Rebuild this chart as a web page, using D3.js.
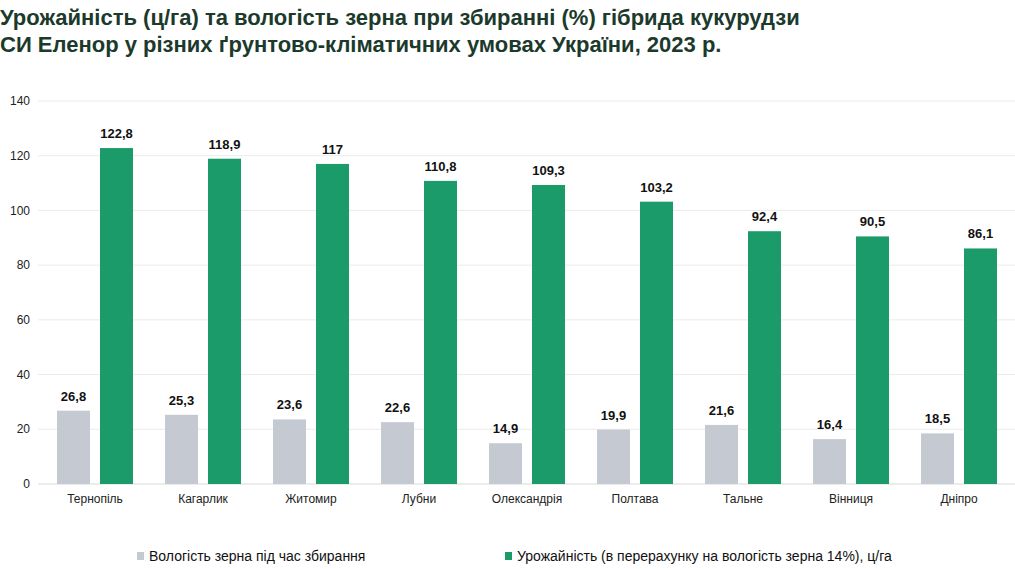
<!DOCTYPE html>
<html>
<head>
<meta charset="utf-8">
<script src="https://cdn.jsdelivr.net/npm/d3@7"></script>
<style>
  body { margin: 0; background: #fff; }
  svg { display: block; font-family: "Liberation Sans", Arial, sans-serif; }
</style>
</head>
<body>
<script>
// categories and series
var cities = ["Тернопіль", "Кагарлик", "Житомир", "Лубни", "Олександрія", "Полтава", "Тальне", "Вінниця", "Дніпро"];
var moisture = [26.8, 25.3, 23.6, 22.6, 14.9, 19.9, 21.6, 16.4, 18.5];
var yieldVals = [122.8, 118.9, 117, 110.8, 109.3, 103.2, 92.4, 90.5, 86.1];
var yTicks = [0, 20, 40, 60, 80, 100, 120, 140];
var seriesNames = ["Вологість зерна під час збирання", "Урожайність (в перерахунку на вологість зерна 14%), ц/га"];
var titleLines = ["Урожайність (ц/га) та вологість зерна при збиранні (%) гібрида кукурудзи",
                  "СИ Еленор у різних ґрунтово-кліматичних умовах України, 2023 р."];

var W = 1015, H = 569;
var margin = {top: 101, right: 2, bottom: 85, left: 41},
    width = W - margin.left - margin.right,
    height = H - margin.top - margin.bottom;

var colors = ["#c4c9d2", "#1a9b69"];

var svg = d3.select("body").append("svg")
    .attr("width", W)
    .attr("height", H);

// title
svg.selectAll("text.title")
  .data(titleLines)
  .enter().append("text")
    .attr("class", "title")
    .attr("x", 0)
    .attr("y", function(d, i) { return 25 + i * 27; })
    .style("font-size", "22px")
    .style("font-weight", "bold")
    .style("fill", "#1c3a2c")
    .text(function(d) { return d; });

var g = svg.append("g")
    .attr("transform", "translate(" + margin.left + "," + margin.top + ")");

var x = d3.scaleBand().domain(cities).range([0, width]).padding(0);
var y = d3.scaleLinear().domain([0, 140]).range([height, 0]);

// grid lines
g.selectAll("line.grid")
  .data(yTicks)
  .enter().append("line")
    .attr("x1", -3)
    .attr("x2", W - margin.left)
    .attr("y1", function(d) { return y(d); })
    .attr("y2", function(d) { return y(d); })
    .style("stroke", function(d) { return d === 0 ? "#d9d9d9" : "#ebebeb"; })
    .style("stroke-width", 1);

// y labels
g.selectAll("text.ytick")
  .data(yTicks)
  .enter().append("text")
    .attr("x", -11)
    .attr("y", function(d) { return y(d); })
    .attr("dy", "0.35em")
    .style("text-anchor", "end")
    .style("font-size", "12px")
    .style("fill", "#222")
    .text(function(d) { return d; });

// bars
var barW = 33, gap = 10;
var groups = g.selectAll("g.city")
  .data(cities)
  .enter().append("g")
    .attr("transform", function(d) { return "translate(" + (x(d) + x.bandwidth() / 2) + ",0)"; });

[moisture, yieldVals].forEach(function(series, s) {
  var off = s === 0 ? -(barW + gap / 2) : gap / 2;
  groups.append("rect")
    .attr("x", off)
    .attr("width", barW)
    .attr("y", function(d, i) { return y(series[i]); })
    .attr("height", function(d, i) { return height - y(series[i]); })
    .style("fill", colors[s]);
  groups.append("text")
    .attr("x", off + barW / 2)
    .attr("y", function(d, i) { return y(series[i]) - 10; })
    .style("text-anchor", "middle")
    .style("font-size", "13px")
    .style("font-weight", "bold")
    .style("fill", "#111")
    .text(function(d, i) { return String(series[i]).replace(".", ","); });
});

// x labels
groups.append("text")
  .attr("y", height + 19)
  .style("text-anchor", "middle")
  .style("font-size", "12px")
  .style("fill", "#222")
  .text(function(d) { return d; });

// legend
var legendX = [137, 505];
var legend = svg.selectAll("g.legend")
  .data(seriesNames)
  .enter().append("g")
    .attr("transform", function(d, i) { return "translate(" + legendX[i] + ",552)"; });
legend.append("rect")
    .attr("width", 7).attr("height", 8)
    .style("fill", function(d, i) { return colors[i]; });
legend.append("text")
    .attr("x", 12)
    .attr("y", 9)
    .style("font-size", "14px")
    .style("fill", "#111")
    .text(function(d) { return d; });
</script>
</body>
</html>
